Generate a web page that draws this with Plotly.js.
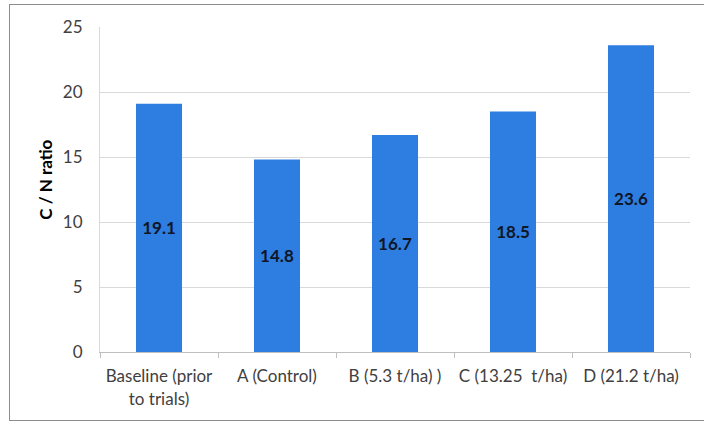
<!DOCTYPE html>
<html><head><meta charset="utf-8">
<script src="https://cdn.plot.ly/plotly-3.0.1.min.js"></script>
<style>
html,body{margin:0;padding:0;background:#fff;}
#wrap{position:relative;width:704px;height:423px;}
#chart{width:704px;height:423px;}
#frame{position:absolute;left:9px;top:4px;width:700px;height:417px;border:1px solid #8c8c8c;border-right:none;box-sizing:border-box;pointer-events:none;}
</style>
</head><body>
<div id="wrap"><div id="chart"></div><div id="frame"></div></div>
<script>
const categories = ["Baseline (prior<br>to trials)", "A (Control)", "B (5.3 t/ha) )", "C (13.25  t/ha)", "D (21.2 t/ha)"];
const cnRatio = [19.1, 14.8, 16.7, 18.5, 23.6];
const yTicks = [0, 5, 10, 15, 20, 25];
const yTitle = 'C / N ratio';

const FONT = 'Lato, "Open Sans", sans-serif';

const trace = {
  type: 'bar',
  x: categories,
  y: cnRatio,
  marker: {color: '#2E7DE1'},
  text: cnRatio.map(v => v.toFixed(1)),
  textposition: 'inside',
  insidetextanchor: 'middle',
  textangle: 0,
  textfont: {family: FONT, size: 17, color: '#0f1626', weight: 'bold'},
  hoverinfo: 'none'
};

const layout = {
  width: 704, height: 423,
  margin: {l: 100, r: 14, t: 27, b: 71},
  paper_bgcolor: '#ffffff', plot_bgcolor: '#ffffff',
  showlegend: false,
  bargap: 0.61,
  font: {family: FONT, size: 17, color: '#404040'},
  xaxis: {
    type: 'category',
    showgrid: false,
    showline: true, linecolor: '#bfbfbf', linewidth: 1,
    ticks: 'outside', tickson: 'boundaries', ticklen: 5, tickcolor: '#bfbfbf',
    ticklabelstandoff: 9,
    tickfont: {size: 17, color: '#404040'},
    automargin: false
  },
  yaxis: {
    range: [0, 25],
    tickvals: yTicks,
    ticktext: yTicks.map(String),
    showgrid: true, gridcolor: '#d9d9d9', gridwidth: 1,
    showline: true, linecolor: '#d9d9d9',
    zeroline: false,
    ticks: '', ticklen: 0,
    ticklabelstandoff: 13,
    tickfont: {size: 17, color: '#404040'},
    automargin: false
  },
  annotations: [{
    text: yTitle,
    xref: 'paper', yref: 'paper',
    x: 0, y: 0.53,
    xanchor: 'center', yanchor: 'middle',
    xshift: -54,
    textangle: -90,
    showarrow: false,
    font: {family: FONT, size: 17, color: '#000000', weight: 'bold'}
  }]
};

Plotly.newPlot('chart', [trace], layout, {displayModeBar: false, staticPlot: true});
</script>
</body></html>
